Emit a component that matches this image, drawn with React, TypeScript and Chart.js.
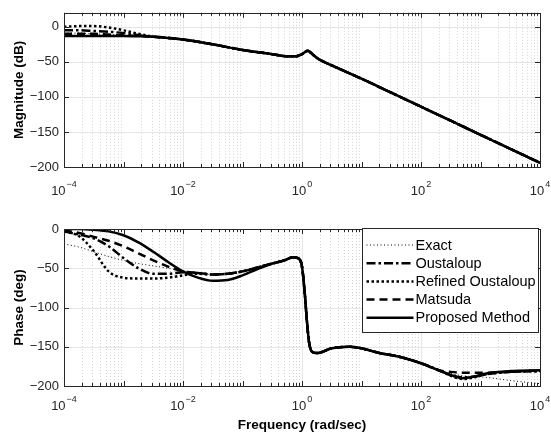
import React, { useEffect, useRef } from "react";
import { Chart, registerables } from "chart.js";
Chart.register(...registerables);

// ---------- data ----------
const seriesNames = ["Exact", "Oustaloup", "Refined Oustaloup", "Matsuda", "Proposed Method"];
const xTickExponents = [-4, -2, 0, 2, 4];
const magTicks = [-200, -150, -100, -50, 0];
const phaseTicks = [-200, -150, -100, -50, 0];

// magnitude (dB), low-frequency part differs per method (log10 of rad/s)
const magLeftLog = [-4, -3.75, -3.5, -3.25, -3, -2.75];
const magLeftExact = [-9, -9, -10, -11, -12, -13];
const magLeftOustaloup = [-5, -5, -6, -7, -9, -12];
const magLeftRefined = [0, 1, 1, -1, -5, -10];
const magLeftMatsuda = [-10, -10, -10, -11, -12, -13];
const magLeftProposed = [-13, -13, -13, -13, -13, -13.5];
// magnitude, shared part
const magSharedLog = [-2.5, -2, -1.5, -1, -0.5, -0.25, -0.1, 0, 0.05, 0.1, 0.15, 0.2, 0.3, 0.5, 1, 1.5, 2, 2.5, 3, 3.5, 4];
const magShared = [-14, -18, -25, -33, -39, -42, -42, -39, -36, -34, -37, -41, -47, -55, -74, -94, -114, -134, -154, -174, -194];

// phase (deg), low-frequency part per method
const phaseLeftLog = [-4, -3.75, -3.5, -3.25, -3, -2.75, -2.5, -2.25, -2, -1.75, -1.5, -1.25, -1, -0.75];
const phaseLeftExact = [-19, -23, -29, -35, -40, -44, -47, -50, -53, -56, -58, -57, -54, -49];
const phaseLeftOustaloup = [-3, -7, -12, -22, -37, -50, -57, -57, -55, -56, -58, -57, -54, -49];
const phaseLeftRefined = [-3, -9, -28, -54, -62, -63, -63, -62, -59, -57, -58, -57, -54, -49];
const phaseLeftMatsuda = [-2, -5, -10, -15, -22, -31, -40, -48, -54, -56, -58, -57, -54, -49];
const phaseLeftProposed = [0, 0, -1, -3, -8, -17, -29, -42, -54, -62, -66, -65, -59, -51];
// phase, shared middle part
const phaseMidLog = [-0.5, -0.3, -0.15, -0.05, 0, 0.05, 0.08, 0.12, 0.18, 0.25, 0.5, 0.8, 1.0, 1.3, 1.65, 2.0, 2.3];
const phaseMid = [-44, -40, -36, -38, -48, -85, -115, -145, -157, -158, -152, -150, -152, -158, -163, -171, -180];
// phase, high-frequency part per method
const phaseRightLog = [2.5, 2.7, 2.9, 3.1, 3.5, 4];
const phaseRightExact = [-184, -187, -188, -189, -193, -197];
const phaseRightOustaloup = [-186, -189, -188, -185, -182, -181];
const phaseRightRefined = [-187, -191, -189, -185, -182, -181];
const phaseRightMatsuda = [-182, -183, -183, -183, -182, -180];
const phaseRightProposed = [-186, -190, -188, -184, -181, -180];

// ---------- styles ----------
const lineStyles = [
  { width: 1, dash: [1, 2.5] },
  { width: 2.5, dash: [9, 3, 2.5, 3] },
  { width: 2.5, dash: [2.5, 2.5] },
  { width: 2.5, dash: [8, 5] },
  { width: 2.5, dash: [] as number[] },
];
const FONT = "'Liberation Sans', Arial, Helvetica, sans-serif";
const AX = "#262626";
const MINUS = "\u2212";

function pts(parts: [number[], number[]][]) {
  const out: { x: number; y: number }[] = [];
  parts.forEach(([lg, v]) => lg.forEach((l, i) => out.push({ x: Math.pow(10, l), y: v[i] })));
  return out;
}

const magSeries = [
  pts([[magLeftLog, magLeftExact], [magSharedLog, magShared]]),
  pts([[magLeftLog, magLeftOustaloup], [magSharedLog, magShared]]),
  pts([[magLeftLog, magLeftRefined], [magSharedLog, magShared]]),
  pts([[magLeftLog, magLeftMatsuda], [magSharedLog, magShared]]),
  pts([[magLeftLog, magLeftProposed], [magSharedLog, magShared]]),
];
const phaseSeries = [
  pts([[phaseLeftLog, phaseLeftExact], [phaseMidLog, phaseMid], [phaseRightLog, phaseRightExact]]),
  pts([[phaseLeftLog, phaseLeftOustaloup], [phaseMidLog, phaseMid], [phaseRightLog, phaseRightOustaloup]]),
  pts([[phaseLeftLog, phaseLeftRefined], [phaseMidLog, phaseMid], [phaseRightLog, phaseRightRefined]]),
  pts([[phaseLeftLog, phaseLeftMatsuda], [phaseMidLog, phaseMid], [phaseRightLog, phaseRightMatsuda]]),
  pts([[phaseLeftLog, phaseLeftProposed], [phaseMidLog, phaseMid], [phaseRightLog, phaseRightProposed]]),
];

type Cfg = {
  yTitle: string;
  yTicks: number[];
  xLabelY: number;
  xTitle?: string;
  xTitleY?: number;
  legend?: boolean;
};

function makePlugin(cfg: Cfg) {
  return {
    id: "matlabAxes",
    beforeDatasetsDraw(chart: any) {
      const { ctx, chartArea: a, scales } = chart;
      const x = scales.x, y = scales.y;
      ctx.save();
      // minor dotted grid
      ctx.strokeStyle = "#d4d4d4";
      ctx.lineWidth = 1;
      ctx.setLineDash([1, 2]);
      for (let e = -4; e < 4; e++) {
        for (let k = 2; k <= 9; k++) {
          const px = Math.round(x.getPixelForValue(k * Math.pow(10, e))) + 0.5;
          ctx.beginPath();
          ctx.moveTo(px, a.top);
          ctx.lineTo(px, a.bottom);
          ctx.stroke();
        }
      }
      ctx.setLineDash([]);
      ctx.strokeStyle = "#e6e6e6";
      xTickExponents.forEach((e) => {
        const px = Math.round(x.getPixelForValue(Math.pow(10, e))) + 0.5;
        ctx.beginPath();
        ctx.moveTo(px, a.top);
        ctx.lineTo(px, a.bottom);
        ctx.stroke();
      });
      cfg.yTicks.forEach((t) => {
        const py = Math.round(y.getPixelForValue(t)) + 0.5;
        ctx.beginPath();
        ctx.moveTo(a.left, py);
        ctx.lineTo(a.right, py);
        ctx.stroke();
      });
      ctx.restore();
    },
    afterDatasetsDraw(chart: any) {
      const { ctx, chartArea: a, scales } = chart;
      const x = scales.x, y = scales.y;
      ctx.save();
      ctx.strokeStyle = AX;
      ctx.lineWidth = 1;
      // tick marks
      for (let e = -4; e < 4; e++) {
        for (let k = 1; k <= 9; k++) {
          const px = Math.round(x.getPixelForValue(k * Math.pow(10, e))) + 0.5;
          const len = k === 1 ? 5 : 3;
          ctx.beginPath();
          ctx.moveTo(px, a.bottom);
          ctx.lineTo(px, a.bottom - len);
          ctx.moveTo(px, a.top);
          ctx.lineTo(px, a.top + len);
          ctx.stroke();
        }
      }
      cfg.yTicks.forEach((t) => {
        const py = Math.round(y.getPixelForValue(t)) + 0.5;
        ctx.beginPath();
        ctx.moveTo(a.left, py);
        ctx.lineTo(a.left + 5, py);
        ctx.moveTo(a.right, py);
        ctx.lineTo(a.right - 5, py);
        ctx.stroke();
      });
      // box
      ctx.strokeRect(Math.round(a.left) + 0.5, Math.round(a.top) + 0.5, Math.round(a.right - a.left), Math.round(a.bottom - a.top));

      if (cfg.legend) {
        const w = 176, h = 104;
        const lx = Math.round(a.right - 2 - w) + 0.5;
        const ly = Math.round(a.top - 1) + 0.5;
        ctx.fillStyle = "#ffffff";
        ctx.fillRect(lx, ly, w, h);
        ctx.strokeStyle = AX;
        ctx.lineWidth = 1;
        ctx.strokeRect(lx, ly, w, h);
        ctx.font = `14.5px ${FONT}`;
        ctx.textBaseline = "middle";
        ctx.textAlign = "left";
        chart.data.datasets.forEach((ds: any, i: number) => {
          const ry = ly + 16.5 + i * 18.2;
          ctx.save();
          ctx.strokeStyle = "#000";
          ctx.lineWidth = ds.borderWidth;
          ctx.setLineDash(ds.borderDash || []);
          ctx.beginPath();
          ctx.moveTo(lx + 4, ry);
          ctx.lineTo(lx + 51, ry);
          ctx.stroke();
          ctx.restore();
          ctx.fillStyle = "#000";
          ctx.fillText(ds.label, lx + 53, ry + 0.5);
        });
      }
      ctx.restore();
    },
    afterDraw(chart: any) {
      const { ctx, chartArea: a, scales } = chart;
      const x = scales.x;
      ctx.save();
      ctx.fillStyle = AX;
      ctx.textBaseline = "middle";
      xTickExponents.forEach((e) => {
        const px = x.getPixelForValue(Math.pow(10, e));
        ctx.font = `13px ${FONT}`;
        const base = "10";
        const bw = ctx.measureText(base).width;
        ctx.font = `9px ${FONT}`;
        const exp = String(e).replace("-", MINUS);
        const ew = ctx.measureText(exp).width;
        const start = px - (bw + ew + 1) / 2;
        ctx.font = `13px ${FONT}`;
        ctx.textAlign = "left";
        ctx.fillText(base, start, cfg.xLabelY);
        ctx.font = `9px ${FONT}`;
        ctx.fillText(exp, start + bw + 1, cfg.xLabelY - 6);
      });
      // y title
      ctx.font = `bold 13.5px ${FONT}`;
      ctx.textAlign = "center";
      ctx.fillStyle = "#000";
      ctx.save();
      ctx.translate(19, (a.top + a.bottom) / 2);
      ctx.rotate(-Math.PI / 2);
      ctx.fillText(cfg.yTitle, 0, 0);
      ctx.restore();
      if (cfg.xTitle) {
        ctx.fillText(cfg.xTitle, (a.left + a.right) / 2, cfg.xTitleY);
      }
      ctx.restore();
    },
  };
}

function makeChart(
  canvas: HTMLCanvasElement,
  series: { x: number; y: number }[][],
  yMin: number,
  yMax: number,
  yTicks: number[],
  padTop: number,
  xHeight: number,
  cfg: Cfg
) {
  return new Chart(canvas, {
    type: "line",
    data: {
      datasets: series.map((d, i) => ({
        label: seriesNames[i],
        data: d,
        borderColor: "#000000",
        backgroundColor: "#000000",
        borderWidth: lineStyles[i].width,
        borderDash: lineStyles[i].dash,
        pointRadius: 0,
        fill: false,
        cubicInterpolationMode: "monotone" as const,
        order: -i,
      })),
    },
    options: {
      responsive: false,
      animation: false,
      devicePixelRatio: 1,
      layout: { padding: { top: padTop, right: 11, left: 0, bottom: 0 } },
      plugins: { legend: { display: false }, tooltip: { enabled: false } },
      scales: {
        x: {
          type: "logarithmic",
          min: 1e-4,
          max: 1e4,
          grid: { display: false, drawTicks: false },
          border: { display: false },
          ticks: { display: false },
          afterFit: (s: any) => {
            s.height = xHeight;
          },
        },
        y: {
          type: "linear",
          min: yMin,
          max: yMax,
          grid: { display: false, drawTicks: false },
          border: { display: false },
          afterBuildTicks: (s: any) => {
            s.ticks = yTicks.map((v) => ({ value: v }));
          },
          afterFit: (s: any) => {
            s.width = 64;
          },
          ticks: {
            padding: 5,
            color: AX,
            font: { family: FONT, size: 13 },
            callback: (v: any) => String(v).replace("-", MINUS),
          },
        },
      },
    },
    plugins: [makePlugin(cfg)],
  } as any);
}

export default function App() {
  const topRef = useRef<HTMLCanvasElement>(null);
  const botRef = useRef<HTMLCanvasElement>(null);
  useEffect(() => {
    const c1 = makeChart(topRef.current!, magSeries, -200, 20, magTicks, 11, 33, {
      yTitle: "Magnitude (dB)",
      yTicks: magTicks,
      xLabelY: 191,
    });
    const c2 = makeChart(botRef.current!, phaseSeries, -200, 0, phaseTicks, 29, 52, {
      yTitle: "Phase (deg)",
      yTicks: phaseTicks,
      xLabelY: 206,
      xTitle: "Frequency (rad/sec)",
      xTitleY: 225,
      legend: true,
    });
    return () => {
      c1.destroy();
      c2.destroy();
    };
  }, []);
  return (
    <div style={{ position: "absolute", left: 0, top: 0, width: 551, height: 438, background: "#fff" }}>
      <canvas ref={topRef} width={551} height={200} style={{ position: "absolute", left: 0, top: 0, width: 551, height: 200 }} />
      <canvas ref={botRef} width={551} height={238} style={{ position: "absolute", left: 0, top: 200, width: 551, height: 238 }} />
    </div>
  );
}
